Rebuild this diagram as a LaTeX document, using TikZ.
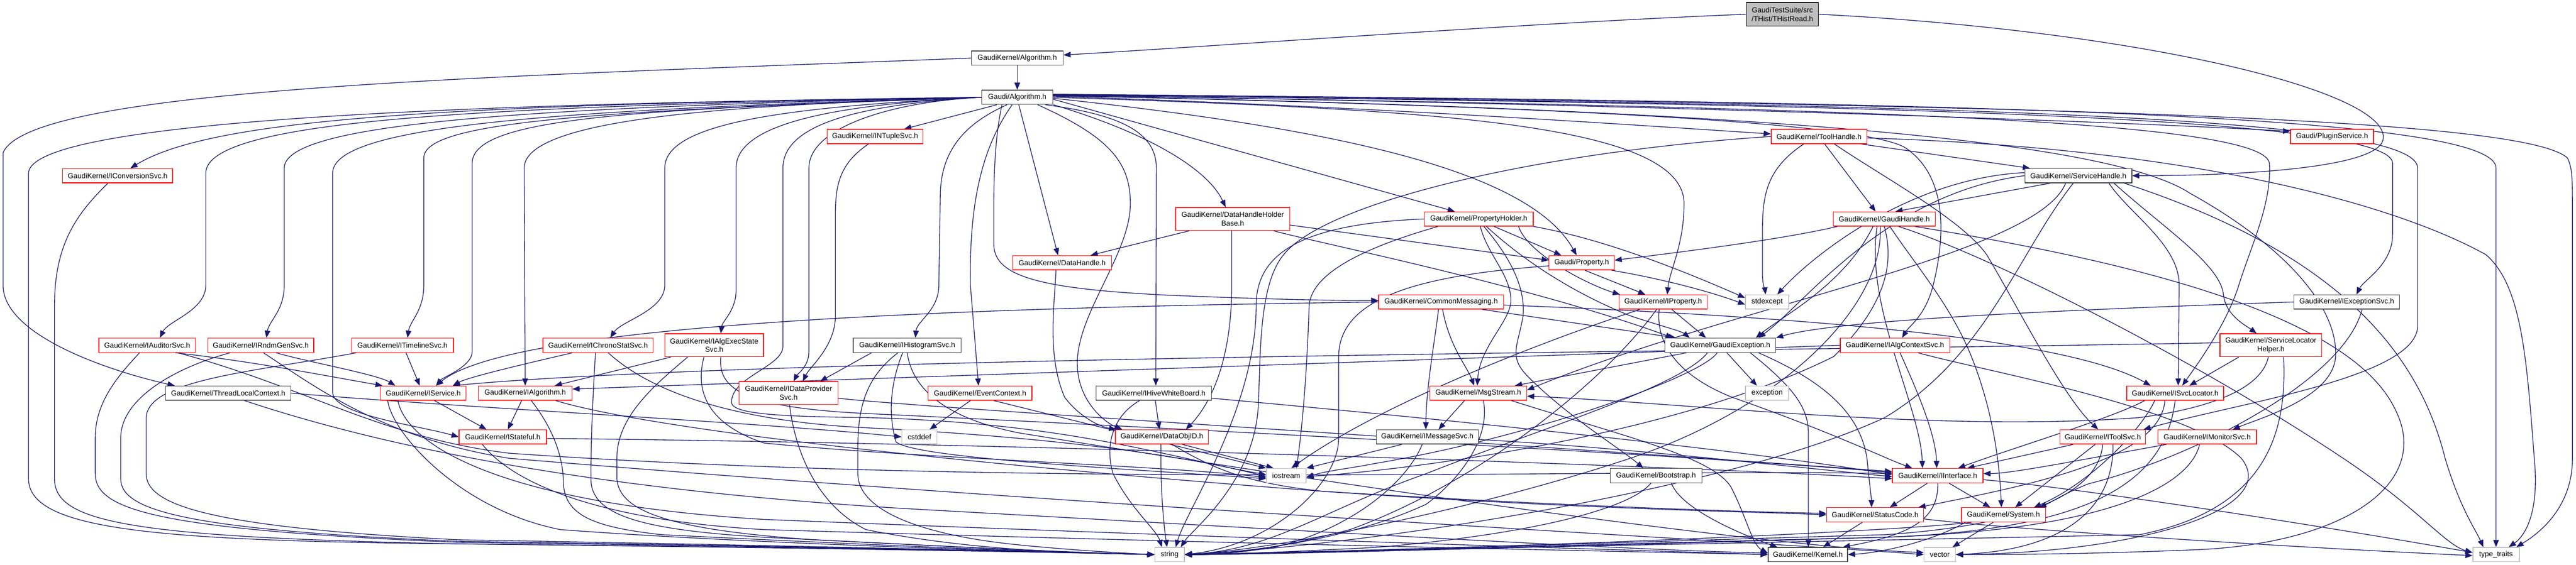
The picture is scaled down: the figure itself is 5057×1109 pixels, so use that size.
\documentclass[tikz,border=0pt]{standalone}
\usepackage{fontspec}
\setmainfont{Liberation Sans}
\usetikzlibrary{arrows.meta,backgrounds}
\definecolor{edgec}{HTML}{191970}
\definecolor{nred}{HTML}{FF0000}
\definecolor{ngray}{HTML}{BFBFBF}
\definecolor{nblack}{HTML}{404040}
\begin{document}
\begin{tikzpicture}[x=1pt,y=1pt,
  box/.style={rectangle, draw, fill=white, inner sep=0pt, minimum height=28pt, align=center,
    line width=1.4pt, font=\fontsize{14.3pt}{17pt}\selectfont},
  rd/.style={box, draw=nred},
  bk/.style={box, draw=nblack},
  gy/.style={box, draw=ngray},
  rt/.style={box, draw=black, fill=ngray},
  edg/.style={draw=edgec, line width=1.35pt, -{Triangle[length=14pt,width=11pt]}}]
\useasboundingbox (0,0) rectangle (5057,-1109);
% nodes
\node[rt, minimum width=142pt, minimum height=46pt] (thr) at (3499,-28) {GaudiTestSuite/src\\/THist/THistRead.h};
\node[bk, minimum width=180pt] (gka) at (1997,-114) {GaudiKernel/Algorithm.h};
\node[bk, minimum width=140pt] (ga) at (1997,-191) {Gaudi/Algorithm.h};
\node[rd, minimum width=216pt] (conv) at (231,-345) {GaudiKernel/IConversionSvc.h};
\node[rd, minimum width=188pt] (ntup) at (1718,-268) {GaudiKernel/INTupleSvc.h};
\node[rd, minimum width=188pt] (toolh) at (3571,-268) {GaudiKernel/ToolHandle.h};
\node[rd, minimum width=163pt] (plug) at (4578,-268) {Gaudi/PluginService.h};
\node[bk, minimum width=210pt] (svch) at (4080,-345) {GaudiKernel/ServiceHandle.h};
\node[rd, minimum width=224pt, minimum height=45pt] (dhhb) at (2420,-430) {GaudiKernel/DataHandleHolder\\Base.h};
\node[rd, minimum width=214pt] (prh) at (2903,-430) {GaudiKernel/PropertyHolder.h};
\node[rd, minimum width=200pt] (gh) at (3699,-430) {GaudiKernel/GaudiHandle.h};
\node[rd, minimum width=194pt] (dh) at (2085,-516) {GaudiKernel/DataHandle.h};
\node[rd, minimum width=128pt] (prop) at (3105,-516) {Gaudi/Property.h};
\node[rd, minimum width=245pt] (cm) at (2829,-593) {GaudiKernel/CommonMessaging.h};
\node[rd, minimum width=173pt] (iprop) at (3265,-593) {GaudiKernel/IProperty.h};
\node[gy, minimum width=85pt] (stdx) at (3469,-593) {stdexcept};
\node[bk, minimum width=207pt] (iexc) at (4607,-593) {GaudiKernel/IExceptionSvc.h};
\node[rd, minimum width=190pt] (aud) at (289,-678) {GaudiKernel/IAuditorSvc.h};
\node[rd, minimum width=208pt] (rndm) at (512,-678) {GaudiKernel/IRndmGenSvc.h};
\node[rd, minimum width=200pt] (tl) at (790,-678) {GaudiKernel/ITimelineSvc.h};
\node[rd, minimum width=216pt] (chrono) at (1174,-678) {GaudiKernel/IChronoStatSvc.h};
\node[rd, minimum width=194pt, minimum height=45pt] (aes) at (1402,-678) {GaudiKernel/IAlgExecState\\Svc.h};
\node[bk, minimum width=212pt] (hist) at (1781,-678) {GaudiKernel/IHistogramSvc.h};
\node[bk, minimum width=218pt] (gexc) at (3377,-678) {GaudiKernel/GaudiException.h};
\node[rd, minimum width=215pt] (actx) at (3720,-678) {GaudiKernel/IAlgContextSvc.h};
\node[rd, minimum width=200pt, minimum height=45pt] (slh) at (4458,-678) {GaudiKernel/ServiceLocator\\Helper.h};
\node[bk, minimum width=246pt] (tlc) at (448,-772) {GaudiKernel/ThreadLocalContext.h};
\node[rd, minimum width=168pt] (isvc) at (831,-772) {GaudiKernel/IService.h};
\node[rd, minimum width=184pt] (ialg) at (1031,-772) {GaudiKernel/IAlgorithm.h};
\node[rd, minimum width=194pt, minimum height=45pt] (idp) at (1548,-772) {GaudiKernel/IDataProvider\\Svc.h};
\node[rd, minimum width=204pt] (ectx) at (1924,-772) {GaudiKernel/EventContext.h};
\node[bk, minimum width=226pt] (hwb) at (2265,-772) {GaudiKernel/IHiveWhiteBoard.h};
\node[rd, minimum width=190pt] (msg) at (2902,-772) {GaudiKernel/MsgStream.h};
\node[gy, minimum width=85pt] (excp) at (3469,-772) {exception};
\node[rd, minimum width=190pt] (isl) at (4270,-772) {GaudiKernel/ISvcLocator.h};
\node[rd, minimum width=172pt] (istf) at (987,-858) {GaudiKernel/IStateful.h};
\node[gy, minimum width=69pt] (cstd) at (1805,-858) {cstddef};
\node[rd, minimum width=183pt] (doid) at (2281,-858) {GaudiKernel/DataObjID.h};
\node[bk, minimum width=200pt] (imsg) at (2802,-858) {GaudiKernel/IMessageSvc.h};
\node[rd, minimum width=168pt] (itool) at (4128,-858) {GaudiKernel/IToolSvc.h};
\node[rd, minimum width=194pt] (imon) at (4333,-858) {GaudiKernel/IMonitorSvc.h};
\node[gy, minimum width=78pt] (ios) at (2525,-934) {iostream};
\node[bk, minimum width=180pt] (boot) at (3251,-934) {GaudiKernel/Bootstrap.h};
\node[rd, minimum width=178pt] (iif) at (3804,-934) {GaudiKernel/IInterface.h};
\node[rd, minimum width=190pt] (sc) at (3681,-1011) {GaudiKernel/StatusCode.h};
\node[rd, minimum width=165pt] (sys) at (3933,-1011) {GaudiKernel/System.h};
\node[gy, minimum width=58pt] (str) at (2296,-1089) {string};
\node[bk, minimum width=156pt] (kern) at (3549,-1089) {GaudiKernel/Kernel.h};
\node[gy, minimum width=62pt] (vec) at (3808,-1089) {vector};
\node[gy, minimum width=91pt] (tt) at (4900,-1089) {type\_traits};

\begin{scope}[on background layer]
\fill[white] (0,0) rectangle (5057,-1109);
% top
\draw[edg] (thr.west) .. controls (3000,-45) and (2400,-90) .. ([yshift=6pt]gka.east);
\draw[edg] (thr.east) .. controls (4200,-60) and (4700,-180) .. (4678,-275) .. controls (4665,-330) and (4400,-345) .. (svch.east);
\draw[edg] (gka) -- (ga);
\draw[edg] (gka.west) .. controls (1000,-150) and (60,-170) .. (6,-300) -- (6,-560) .. controls (6,-660) and (220,-730) .. ([xshift=-105pt]tlc.north);
% Gaudi/Algorithm.h left bundle
\draw[edg] (ga.west) .. controls (1300,-200) and (60,-215) .. (56,-340) -- (56,-940) .. controls (56,-1040) and (300,-1062) .. (900,-1068) .. controls (1600,-1075) and (2100,-1085) .. (str.west);
\draw[edg] (ga.west) .. controls (900,-205) and (420,-230) .. ([xshift=25pt]conv.north);
\draw[edg] (ga.west) .. controls (1000,-208) and (404,-230) .. (404,-340) -- (404,-560) .. controls (404,-610) and (330,-630) .. ([xshift=25pt]aud.north);
\draw[edg] (ga.west) .. controls (1050,-210) and (558,-240) .. (558,-330) -- (558,-560) .. controls (558,-610) and (528,-630) .. ([xshift=11pt]rndm.north);
\draw[edg] (ga.west) .. controls (1100,-215) and (653,-245) .. (653,-340) -- (653,-770) .. controls (653,-815) and (820,-835) .. (istf.west);
\draw[edg] (ga.west) .. controls (1150,-218) and (832,-240) .. (832,-310) -- (832,-560) .. controls (832,-610) and (805,-630) .. ([xshift=10pt]tl.north);
\draw[edg] (ga.west) .. controls (1300,-215) and (927,-225) .. (927,-320) -- (927,-690) .. controls (927,-720) and (870,-740) .. ([xshift=25pt]isvc.north);
\draw[edg] (ga.west) .. controls (1500,-205) and (1029,-225) .. (1029,-330) -- (ialg.north);
\draw[edg] (ga.west) .. controls (1550,-210) and (1305,-240) .. (1305,-330) -- (1305,-560) .. controls (1305,-610) and (1220,-630) .. ([xshift=24pt]chrono.north);
\draw[edg] (ga.west) .. controls (1650,-205) and (1445,-240) .. (1445,-330) -- (1445,-570) .. controls (1445,-610) and (1418,-630) .. ([xshift=13pt]aes.north);
\draw[edg] (ga.west) .. controls (1700,-205) and (1537,-240) .. (1537,-330) -- (1537,-680) .. controls (1537,-720) and (1436,-740) .. (1436,-790) .. controls (1436,-815) and (1550,-818) .. (1700,-820) .. controls (2100,-830) and (2300,-900) .. ([yshift=2pt]ios.west);
\draw[edg] (ga.west) .. controls (1750,-200) and (1588,-250) .. (1588,-330) -- (1588,-690) .. controls (1588,-720) and (1565,-735) .. ([xshift=10pt]idp.north);
% Gaudi/Algorithm.h bottom / right
\draw[edg] ([xshift=-40pt]ga.south) -- ([xshift=57pt]ntup.north);
\draw[edg] ([xshift=-20pt]ga.south) .. controls (1900,-240) and (1848,-290) .. (1846,-380) -- (1843,-560) .. controls (1843,-610) and (1800,-630) .. ([xshift=16pt]hist.north);
\draw[edg] ([xshift=-10pt]ga.south) .. controls (1920,-300) and (1903,-420) .. (1905,-560) -- ([xshift=-3pt]ectx.north);
\draw[edg] ([xshift=-30pt]ga.south) .. controls (1955,-260) and (1951,-330) .. (1951,-400) -- (1951,-480) .. controls (1951,-545) and (2050,-568) .. (2300,-580) .. controls (2500,-588) and (2600,-590) .. ([yshift=3pt]cm.west);
\draw[edg] ([xshift=3pt]ga.south) -- ([xshift=-8pt]dh.north);
\draw[edg] ([xshift=40pt]ga.south) .. controls (2180,-270) and (2219,-320) .. (2219,-400) .. controls (2219,-500) and (2110,-620) .. (2115,-720) .. controls (2118,-790) and (2170,-830) .. ([xshift=-78pt]doid.north);
\draw[edg] ([xshift=55pt]ga.south) .. controls (2200,-225) and (2270,-260) .. (2270,-330) -- ([xshift=4pt]hwb.north);
\draw[edg] (ga.south east) .. controls (2250,-260) and (2370,-330) .. ([xshift=-14pt]dhhb.north);
\draw[edg] ([yshift=-4pt]ga.east) -- ([xshift=-47pt]prh.north);
\draw[edg] ([yshift=-2pt]ga.east) .. controls (2600,-250) and (3000,-330) .. ([xshift=-10pt]prop.north);
\draw[edg] (ga.east) .. controls (2800,-215) and (3306,-240) .. (3306,-400) .. controls (3306,-480) and (3278,-530) .. ([xshift=8pt]iprop.north);
\draw[edg] ([yshift=2pt]ga.east) .. controls (2700,-210) and (3200,-245) .. ([yshift=5pt]toolh.west);
\draw[edg] ([yshift=3pt]ga.east) .. controls (2900,-205) and (3650,-235) .. (3740,-290) .. controls (3830,-350) and (3815,-480) .. (3795,-560) .. controls (3780,-620) and (3748,-640) .. ([xshift=14pt]actx.north);
\draw[edg] ([yshift=4pt]ga.east) .. controls (3000,-200) and (4100,-235) .. ([yshift=10pt]plug.west);
\draw[edg] ([yshift=5pt]ga.east) .. controls (3600,-205) and (4690,-225) .. (4697,-320) -- (4697,-460) .. controls (4697,-520) and (4640,-550) .. ([xshift=19pt]iexc.north);
\draw[edg] ([yshift=5pt]ga.east) .. controls (3700,-205) and (4746,-220) .. (4746,-330) -- (4746,-640) .. controls (4746,-740) and (4400,-790) .. ([xshift=80pt]itool.north);
\draw[edg] ([yshift=6pt]ga.east) .. controls (3800,-200) and (4900,-220) .. (4900,-330) -- (tt.north);
\draw[edg] ([yshift=6pt]ga.east) .. controls (4000,-205) and (4950,-230) .. (5040,-310) .. controls (5050,-330) and (5050,-350) .. (5050,-420) -- (5050,-900) .. controls (5050,-1000) and (4980,-1050) .. ([xshift=40pt]tt.north);
\draw[edg] ([yshift=4pt]ga.east) .. controls (3500,-210) and (4440,-230) .. (4455,-320) .. controls (4460,-400) and (4420,-480) .. (4395,-560) .. controls (4370,-640) and (4310,-720) .. ([xshift=14pt]isl.north);
\draw[edg] ([yshift=3pt]ga.east) .. controls (3500,-215) and (4150,-280) .. (4300,-380) .. controls (4480,-480) and (4590,-600) .. (4585,-700) .. controls (4580,-780) and (4440,-820) .. ([xshift=50pt]imon.north);
% INTupleSvc
\draw[edg] ([xshift=-13pt]ntup.south) .. controls (1650,-320) and (1640,-360) .. (1640,-420) -- (1640,-620) .. controls (1640,-680) and (1590,-720) .. ([xshift=28pt]idp.north);
% left column services
\draw[edg] ([xshift=-19pt]conv.south) .. controls (150,-420) and (107,-480) .. (107,-600) -- (107,-940) .. controls (107,-1025) and (250,-1055) .. (900,-1068) .. controls (1600,-1076) and (2100,-1085) .. (str.west);
\draw[edg] ([xshift=-15pt]aud.south) .. controls (230,-740) and (187,-790) .. (187,-860) -- (187,-930) .. controls (187,-1000) and (300,-1040) .. (900,-1065) .. controls (1600,-1074) and (2100,-1085) .. (str.west);
\draw[edg] ([xshift=55pt]aud.south) .. controls (500,-710) and (650,-740) .. ([xshift=-80pt]isvc.north);
\draw[edg] ([xshift=60pt]aud.south) .. controls (600,-760) and (750,-860) .. (1000,-890) .. controls (2000,-960) and (3200,-920) .. ([yshift=4pt]iif.west);
\draw[edg] ([xshift=30pt]rndm.south) .. controls (600,-710) and (740,-735) .. ([xshift=-55pt]isvc.north);
\draw[edg] ([xshift=-60pt]rndm.south) .. controls (350,-720) and (237,-780) .. (237,-860) -- (237,-940) .. controls (237,-1000) and (350,-1040) .. (900,-1063) .. controls (1600,-1073) and (2100,-1085) .. (str.west);
\draw[edg] ([xshift=5pt]rndm.south) .. controls (620,-760) and (750,-860) .. (1000,-900) .. controls (2200,-1000) and (3400,-1060) .. (vec.west);
\draw[edg] ([xshift=7pt]tl.south) -- ([xshift=-7pt]isvc.north);
\draw[edg] ([xshift=-90pt]tl.south) .. controls (500,-730) and (290,-745) .. (287,-820) -- (287,-930) .. controls (287,-990) and (400,-1035) .. (900,-1060) .. controls (1600,-1072) and (2100,-1085) .. (str.west);
\draw[edg] (tlc.east) .. controls (900,-800) and (1500,-830) .. (cstd.west);
\draw[edg] ([xshift=32pt]tlc.south) .. controls (700,-860) and (1100,-960) .. (1800,-1000) .. controls (2700,-1050) and (3200,-1080) .. ([yshift=3pt]kern.west);
\draw[edg] ([xshift=22pt]isvc.south) -- ([xshift=-32pt]istf.north);
\draw[edg] ([xshift=-70pt]isvc.south) .. controls (770,-850) and (900,-1000) .. (1100,-1040) .. controls (1500,-1070) and (2100,-1085) .. (str.west);
\draw[edg] ([xshift=-50pt]isvc.south) .. controls (800,-880) and (1000,-990) .. (1500,-1020) .. controls (2500,-1060) and (3200,-1080) .. (kern.west);
\draw[edg] ([xshift=-7pt]ialg.south) -- ([xshift=10pt]istf.north);
\draw[edg] ([xshift=12pt]ialg.south) .. controls (1100,-860) and (1106,-920) .. (1106,-950) .. controls (1110,-1010) and (1160,-1035) .. (1300,-1050) .. controls (1800,-1075) and (2100,-1085) .. (str.west);
\draw[edg] ([xshift=60pt]ialg.south) .. controls (1300,-850) and (2000,-920) .. (2600,-965) .. controls (3100,-1000) and (3450,-1005) .. (sc.west);
\draw[edg] ([yshift=-3pt]istf.east) .. controls (2000,-870) and (3300,-915) .. ([yshift=-6pt]iif.west);
\draw[edg] ([xshift=-40pt]istf.south) .. controls (1000,-940) and (1150,-1020) .. (1500,-1040) .. controls (2500,-1070) and (3200,-1083) .. (kern.west);
\draw[edg] ([xshift=-50pt]chrono.south) .. controls (1050,-710) and (920,-740) .. ([xshift=58pt]isvc.north);
\draw[edg] ([xshift=-5pt]chrono.south) .. controls (1165,-760) and (1160,-850) .. (1160,-940) .. controls (1160,-1010) and (1250,-1040) .. (1500,-1055) .. controls (1900,-1075) and (2100,-1085) .. (str.west);
\draw[edg] ([xshift=20pt]chrono.south) .. controls (1300,-790) and (1500,-830) .. (1700,-840) .. controls (2100,-860) and (2350,-900) .. ([yshift=-2pt]ios.west);
\draw[edg] ([xshift=-85pt]aes.south) -- ([xshift=58pt]ialg.north);
\draw[edg] ([xshift=-52pt]aes.south) .. controls (1280,-760) and (1211,-820) .. (1211,-900) -- (1211,-940) .. controls (1215,-1000) and (1300,-1040) .. (1600,-1060) .. controls (1900,-1075) and (2100,-1085) .. (str.west);
\draw[edg] ([xshift=-20pt]aes.south) .. controls (1366,-760) and (1380,-830) .. (1500,-870) .. controls (1800,-900) and (2300,-915) .. ([yshift=-4pt]ios.west);
\draw[edg] ([xshift=13pt]aes.south) .. controls (1410,-760) and (1450,-800) .. (1700,-812) .. controls (2500,-850) and (3400,-900) .. ([yshift=6pt]iif.west);
\draw[edg] ([xshift=2pt]idp.south) .. controls (1560,-880) and (1600,-990) .. (1700,-1040) .. controls (1900,-1080) and (2100,-1086) .. (str.west);
\draw[edg] ([yshift=-10pt]idp.east) .. controls (1800,-800) and (2800,-860) .. ([yshift=8pt]iif.west);
\draw[edg] ([xshift=-70pt]hist.south) -- ([xshift=62pt]idp.north);
\draw[edg] ([xshift=-18pt]hist.south) .. controls (1700,-740) and (1684,-800) .. (1684,-880) -- (1684,-930) .. controls (1684,-1000) and (1800,-1050) .. (2000,-1070) .. controls (2100,-1080) and (2200,-1086) .. (str.west);
\draw[edg] ([xshift=-9pt]hist.south) .. controls (1745,-760) and (1745,-820) .. (1759,-868) .. controls (1800,-900) and (2200,-920) .. ([yshift=-6pt]ios.west);
\draw[edg] (hist.south) .. controls (1790,-760) and (1850,-820) .. (2000,-850) .. controls (2800,-980) and (3500,-1075) .. ([yshift=4pt]vec.west);
% middle
\draw[edg] ([xshift=-19pt]ectx.south) -- ([xshift=20pt]cstd.north);
\draw[edg] ([xshift=27pt]ectx.south) -- (ios.north west);
\draw[edg] ([xshift=3pt]hwb.south) -- ([xshift=-5pt]doid.north);
\draw[edg] ([xshift=-28pt]hwb.south) .. controls (2180,-820) and (2170,-880) .. (2185,-930) .. controls (2220,-1000) and (2270,-1040) .. ([xshift=-15pt]str.north);
\draw[edg] ([yshift=-10pt]hwb.east) .. controls (2800,-820) and (3400,-880) .. ([yshift=2pt]iif.west);
\draw[edg] ([xshift=-2pt]doid.south) .. controls (2278,-950) and (2283,-1020) .. ([xshift=-5pt]str.north);
\draw[edg] ([xshift=40pt]doid.south) -- ([xshift=-25pt]ios.north);
\draw[edg] ([xshift=20pt]doid.south) .. controls (2380,-920) and (2450,-950) .. (2600,-965) .. controls (3000,-990) and (3400,-1005) .. ([yshift=3pt]sc.west);
\draw[edg] ([xshift=-12pt]dh.south) .. controls (2070,-600) and (2055,-700) .. (2090,-780) .. controls (2120,-820) and (2160,-838) .. ([xshift=-90pt]doid.north);
\draw[edg] ([xshift=-85pt]dhhb.south) -- ([xshift=56pt]dh.north);
\draw[edg] ([xshift=-2pt]dhhb.south) -- (2418,-560) .. controls (2418,-720) and (2370,-800) .. ([xshift=47pt]doid.north);
\draw[edg] ([yshift=-12pt]dhhb.east) -- ([yshift=5pt]prop.west);
\draw[edg] ([xshift=80pt]dhhb.south) .. controls (2600,-480) and (3000,-560) .. ([xshift=-93pt]gexc.north);
\draw[edg] ([xshift=30pt]prh.south) -- ([xshift=-40pt]prop.north);
\draw[edg] (prh.west) .. controls (2550,-440) and (2466,-500) .. (2466,-600) .. controls (2466,-800) and (2330,-1000) .. ([xshift=12pt]str.north);
\draw[edg] ([xshift=78pt]prh.south) .. controls (3000,-500) and (3120,-560) .. ([xshift=-85pt]iprop.north);
\draw[edg] ([xshift=3pt]prh.south) .. controls (2920,-500) and (2966,-540) .. (2966,-590) .. controls (2966,-630) and (2905,-680) .. ([xshift=-2pt]msg.north);
\draw[edg] ([xshift=10pt]prh.south) .. controls (2960,-500) and (2995,-560) .. (2990,-620) .. controls (2980,-680) and (2960,-700) .. (3000,-740) .. controls (3080,-820) and (3180,-880) .. ([xshift=-25pt]boot.north);
\draw[edg] ([xshift=15pt]prh.south) .. controls (3000,-520) and (3100,-580) .. (3200,-620) .. controls (3260,-640) and (3300,-650) .. ([xshift=-60pt]gexc.north);
\draw[edg] ([xshift=-80pt]prh.south) .. controls (2700,-480) and (2575,-530) .. (2570,-600) .. controls (2565,-750) and (2555,-850) .. ([xshift=20pt]ios.north);
\draw[edg] (prh.south east) .. controls (3150,-470) and (3300,-530) .. ([yshift=8pt]stdx.west);
% GaudiHandle
\draw[edg] ([xshift=-92pt]gh.south) .. controls (3500,-470) and (3300,-495) .. ([yshift=5pt]prop.east);
\draw[edg] ([xshift=-22pt]gh.south) .. controls (3620,-560) and (3500,-620) .. ([xshift=70pt]gexc.north);
\draw[edg] ([xshift=-14pt]gh.south) .. controls (3660,-600) and (3770,-800) .. ([xshift=-30pt]iif.north);
\draw[edg] ([xshift=11pt]gh.south) .. controls (3760,-520) and (3830,-600) .. (3870,-700) .. controls (3910,-800) and (3925,-900) .. ([xshift=-4pt]sys.north);
\draw[edg] ([xshift=-8pt]gh.south) .. controls (3700,-600) and (3500,-800) .. (3200,-900) .. controls (2900,-1000) and (2500,-1080) .. (str.east);
\draw[edg] (gh.south) .. controls (3720,-520) and (3700,-600) .. (3600,-700) .. controls (3300,-850) and (2800,-920) .. ([yshift=-2pt]ios.east);
\draw[edg] ([xshift=28pt]gh.south) .. controls (3900,-500) and (4300,-700) .. (4600,-900) .. controls (4750,-1000) and (4800,-1070) .. ([yshift=4pt]tt.west);
\draw[edg] ([xshift=60pt]gh.south) .. controls (4100,-500) and (4600,-600) .. (4700,-800) .. controls (4780,-950) and (4600,-1070) .. (4300,-1080) .. controls (4100,-1088) and (3950,-1089) .. (vec.east);
% ToolHandle
\draw[edg] ([xshift=11pt]toolh.south) -- ([xshift=-17pt]gh.north);
\draw[edg] ([xshift=82pt]toolh.south) -- ([xshift=-95pt]svch.north);
\draw[edg] ([xshift=30pt]toolh.south) .. controls (3700,-350) and (3850,-430) .. (3900,-500) .. controls (3960,-600) and (4050,-780) .. ([xshift=-9pt]itool.north);
\draw[edg] ([yshift=-3pt]toolh.east) .. controls (4300,-290) and (4700,-400) .. (4880,-500) .. controls (4950,-560) and (4960,-700) .. (4975,-900) .. controls (4985,-1000) and (4960,-1050) .. ([xshift=25pt]tt.north);
\draw[edg] ([xshift=-30pt]toolh.south) .. controls (3470,-330) and (3460,-380) .. (3460,-450) -- (3460,-540) .. controls (3460,-560) and (3465,-570) .. ([xshift=-3pt]stdx.north);
\draw[edg] (toolh.west) .. controls (3000,-300) and (2600,-400) .. (2520,-500) .. controls (2470,-560) and (2475,-700) .. (2470,-800) .. controls (2460,-950) and (2340,-1040) .. ([xshift=22pt]str.north);
% ServiceHandle
\draw[edg] ([xshift=-55pt]svch.south) -- ([xshift=22pt]gh.north);
\draw[edg] (svch.west) .. controls (3700,-380) and (3540,-600) .. ([xshift=75pt]gexc.north);
\draw[edg] ([yshift=6pt]svch.west) .. controls (3750,-350) and (3560,-500) .. ([xshift=20pt]stdx.north);
\draw[edg] ([xshift=60pt]svch.south) .. controls (4180,-420) and (4278,-480) .. (4278,-560) -- ([xshift=6pt]isl.north);
\draw[edg] ([xshift=70pt]svch.south) .. controls (4250,-450) and (4360,-520) .. (4365,-580) .. controls (4370,-620) and (4410,-640) .. ([xshift=-28pt]slh.north);
\draw[edg] ([xshift=-25pt]svch.south) .. controls (4000,-500) and (3400,-600) .. ([yshift=6pt]msg.east);
\draw[edg] ([xshift=-10pt]svch.south) .. controls (3960,-500) and (3900,-700) .. (3700,-820) .. controls (3400,-960) and (2700,-1070) .. (str.east);
\draw[edg] ([xshift=90pt]svch.south) .. controls (4600,-500) and (4750,-700) .. (4800,-900) .. controls (4830,-1000) and (4860,-1040) .. ([xshift=-25pt]tt.north);
% ServiceLocatorHelper
\draw[edg] ([xshift=-63pt]slh.south) -- ([xshift=28pt]isl.north);
\draw[edg] ([yshift=5pt]slh.west) .. controls (3500,-690) and (1500,-700) .. ([xshift=58pt]isvc.north);
\draw[edg] ([xshift=-5pt]slh.south) .. controls (4440,-760) and (4350,-800) .. (4200,-820) .. controls (3800,-850) and (3300,-790) .. ([yshift=-6pt]msg.east);
\draw[edg] ([xshift=25pt]slh.south) .. controls (4490,-850) and (4450,-1000) .. (4200,-1050) .. controls (3500,-1065) and (2700,-1080) .. (str.east);
% CommonMessaging
\draw[edg] ([xshift=-5pt]cm.south) .. controls (2815,-680) and (2800,-760) .. ([xshift=-3pt]imsg.north);
\draw[edg] ([xshift=3pt]cm.south) .. controls (2845,-680) and (2880,-720) .. ([xshift=-8pt]msg.north);
\draw[edg] ([xshift=81pt]cm.south) -- ([xshift=-87pt]gexc.north);
\draw[edg] ([yshift=-6pt]cm.east) .. controls (3500,-620) and (4050,-660) .. ([xshift=-48pt]isl.north);
\draw[edg] (cm.west) .. controls (1800,-605) and (1000,-640) .. ([xshift=25pt]isvc.north);
% MsgStream / IMessageSvc / Bootstrap
\draw[edg] ([xshift=-27pt]msg.south) -- ([xshift=22pt]imsg.north);
\draw[edg] ([xshift=10pt]msg.south) .. controls (2925,-850) and (2880,-930) .. (2800,-990) .. controls (2650,-1060) and (2450,-1085) .. (str.east);
\draw[edg] ([xshift=65pt]msg.south) .. controls (3200,-860) and (3370,-900) .. (3400,-960) .. controls (3430,-1020) and (3440,-1070) .. ([yshift=3pt]kern.west);
\draw[edg] ([xshift=-50pt]imsg.south) -- (ios.north east);
\draw[edg] ([xshift=-10pt]imsg.south) .. controls (2760,-950) and (2650,-1040) .. (2500,-1075) .. controls (2420,-1087) and (2380,-1089) .. (str.east);
\draw[edg] ([yshift=-5pt]imsg.east) .. controls (3200,-880) and (3500,-915) .. ([yshift=-2pt]iif.west);
\draw[edg] ([xshift=-10pt]boot.south) .. controls (3200,-1000) and (3000,-1050) .. (2700,-1075) .. controls (2500,-1085) and (2400,-1089) .. (str.east);
\draw[edg] ([xshift=30pt]boot.south) .. controls (3300,-1000) and (3420,-1050) .. ([xshift=-60pt]kern.north);
% GaudiException
\draw[edg] ([xshift=13pt]gexc.south) -- ([xshift=-20pt]excp.north);
\draw[edg] ([xshift=59pt]gexc.south) .. controls (3520,-760) and (3550,-800) .. (3550,-850) -- ([xshift=1pt]kern.north);
\draw[edg] ([xshift=75pt]gexc.south) .. controls (3560,-740) and (3650,-800) .. (3665,-900) .. controls (3670,-950) and (3674,-980) .. ([xshift=-7pt]sc.north);
\draw[edg] ([xshift=-6pt]gexc.south) .. controls (3340,-740) and (3000,-860) .. (2700,-910) .. controls (2650,-920) and (2600,-925) .. ([yshift=-4pt]ios.east);
\draw[edg] ([xshift=-25pt]gexc.south) .. controls (3300,-760) and (3000,-850) .. (2800,-930) .. controls (2600,-1000) and (2500,-1080) .. (str.east);
\draw[edg] ([xshift=-66pt]gexc.south) -- ([xshift=72pt]msg.north);
% IAlgContextSvc
\draw[edg] ([xshift=10pt]actx.south) .. controls (3760,-760) and (3800,-850) .. ([xshift=-2pt]iif.north);
\draw[edg] (actx.west) .. controls (3000,-700) and (1800,-740) .. ([yshift=8pt]ialg.east);
\draw[edg] ([xshift=45pt]actx.south) .. controls (3900,-730) and (4300,-800) .. (4400,-900) .. controls (4480,-1000) and (4200,-1085) .. (vec.east);
% IProperty / Property
\draw[edg] ([xshift=-46pt]iprop.south) .. controls (3000,-680) and (2700,-800) .. ([xshift=10pt]ios.north);
\draw[edg] ([xshift=-13pt]iprop.south) .. controls (3150,-750) and (2900,-950) .. (2650,-1040) .. controls (2500,-1080) and (2400,-1089) .. (str.east);
\draw[edg] ([xshift=-8pt]iprop.south) .. controls (3250,-680) and (3300,-740) .. (3400,-780) .. controls (3600,-850) and (3700,-900) .. ([xshift=-50pt]iif.north);
\draw[edg] ([xshift=17pt]iprop.south) -- ([xshift=-28pt]gexc.north);
\draw[edg] ([xshift=6pt]prop.south) -- ([xshift=-35pt]iprop.north);
\draw[edg] ([yshift=-6pt]prop.west) .. controls (2800,-540) and (2628,-580) .. (2628,-700) -- (2628,-860) .. controls (2628,-950) and (2500,-1070) .. (str.east);
\draw[edg] ([xshift=58pt]prop.south) .. controls (3250,-545) and (3350,-570) .. ([yshift=-5pt]stdx.west);
% ISvcLocator / IToolSvc / IMonitorSvc / IExceptionSvc
\draw[edg] ([xshift=-60pt]isl.south) .. controls (4150,-820) and (3950,-880) .. ([xshift=40pt]iif.north);
\draw[edg] ([xshift=-40pt]isl.south) .. controls (4200,-850) and (4100,-950) .. ([xshift=60pt]sys.north);
\draw[edg] ([xshift=-20pt]isl.south) .. controls (4240,-900) and (4000,-950) .. ([xshift=85pt]sc.north);
\draw[edg] (isl.south) .. controls (4250,-950) and (4100,-1040) .. (3700,-1055) .. controls (3000,-1075) and (2500,-1089) .. (str.east);
\draw[edg] ([xshift=-58pt]itool.south) -- ([xshift=58pt]iif.north);
\draw[edg] ([xshift=-15pt]itool.south) -- ([xshift=23pt]sys.north);
\draw[edg] (itool.south) .. controls (4120,-960) and (4000,-1030) .. (3700,-1050) .. controls (3000,-1070) and (2500,-1089) .. (str.east);
\draw[edg] ([xshift=20pt]itool.south) .. controls (4150,-1000) and (4050,-1080) .. (vec.east);
\draw[edg] ([xshift=-80pt]imon.south) .. controls (4100,-900) and (3950,-930) .. ([yshift=4pt]iif.east);
\draw[edg] ([xshift=-15pt]imon.south) .. controls (4300,-950) and (4150,-1040) .. (3700,-1055) .. controls (3000,-1072) and (2500,-1088) .. (str.east);
\draw[edg] (iexc.west) .. controls (4000,-610) and (3600,-630) .. (gexc.north east);
\draw[edg] ([xshift=30pt]iexc.south) .. controls (4600,-750) and (4300,-900) .. (4100,-950) .. controls (4050,-970) and (4030,-985) .. ([xshift=70pt]sys.north);
% bottom layer
\draw[edg] ([xshift=-20pt]iif.south) -- ([xshift=29pt]sc.north);
\draw[edg] ([xshift=22pt]iif.south) -- ([xshift=-26pt]sys.north);
\draw[edg] (iif.south) .. controls (3806,-1020) and (3750,-1050) .. ([xshift=-10pt]kern.north east);
\draw[edg] ([yshift=-8pt]iif.east) .. controls (4100,-960) and (4600,-1040) .. ([yshift=4pt]tt.west);
\draw[edg] ([xshift=-25pt]sc.south) -- ([xshift=30pt]kern.north);
\draw[edg] ([yshift=-8pt]sc.east) .. controls (3950,-1040) and (4500,-1075) .. ([yshift=-2pt]tt.west);
\draw[edg] ([xshift=-20pt]sys.south) -- ([xshift=25pt]vec.north);
\draw[edg] ([xshift=-63pt]sys.south) .. controls (3700,-1045) and (3000,-1075) .. (str.east);
\draw[edg] ([xshift=-75pt]sys.south) .. controls (3800,-1060) and (3700,-1085) .. (kern.east);
\end{scope}
\end{tikzpicture}
\end{document}
